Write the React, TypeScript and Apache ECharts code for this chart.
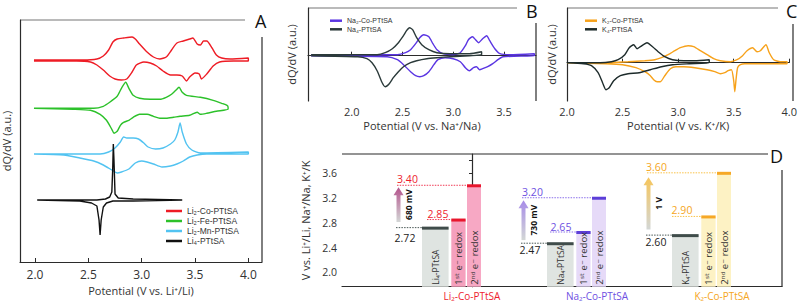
import React, { useEffect, useRef } from "react";
import * as echarts from "echarts";

type P = [number, number];

// ---------- Panel A: Li cells (potential V, dQ/dV a.u. relative to own baseline)
const LI_CO_UP: P[] = [[1.99,0],[2.45,0],[2.58,1],[2.64,4],[2.69,10],[2.73,18],[2.77,21],[2.83,22],[2.91,23],[2.94,21],[2.98,16],[3.05,8],[3.11,3],[3.17,1],[3.23,3],[3.28,10],[3.33,17],[3.39,19],[3.45,21],[3.48,22],[3.52,16],[3.55,15],[3.58,19],[3.61,19],[3.66,12],[3.70,5],[3.75,2],[3.83,1],[4.0,2]];
const LI_CO_DOWN: P[] = [[4.0,-1],[3.86,-1],[3.73,-2],[3.67,-6],[3.61,-14],[3.56,-19],[3.54,-14],[3.50,-13],[3.45,-17],[3.42,-21],[3.38,-16],[3.33,-15],[3.27,-15],[3.20,-11],[3.14,-6],[3.08,-3],[3.02,-2],[2.95,-5],[2.91,-12],[2.86,-19],[2.81,-20],[2.75,-19],[2.70,-16],[2.64,-10],[2.58,-5],[2.52,-2],[2.39,-1],[1.99,-1]];
const LI_FE_UP: P[] = [[1.99,0],[2.55,0],[2.64,2],[2.70,6],[2.77,12],[2.81,20],[2.85,26],[2.88,20],[2.92,13],[2.98,10],[3.08,9],[3.17,9],[3.23,11],[3.28,14],[3.32,18],[3.35,21],[3.38,16],[3.42,13],[3.55,11],[3.67,8],[3.75,5],[3.80,3],[3.81,1]];
const LI_FE_DOWN: P[] = [[3.81,-1],[3.70,-3],[3.61,-5],[3.55,-6],[3.52,-4],[3.45,-7],[3.36,-8],[3.30,-9],[3.23,-10],[3.17,-10],[3.11,-8],[3.05,-6],[2.98,-6],[2.92,-9],[2.88,-12],[2.83,-14],[2.80,-17],[2.77,-23],[2.74,-25],[2.72,-21],[2.67,-12],[2.61,-6],[2.52,-2],[2.36,-1],[1.99,0]];
const LI_MN_UP: P[] = [[1.99,0],[2.61,0],[2.69,2],[2.75,6],[2.80,12],[2.83,17],[2.86,16],[2.92,16],[2.97,15],[3.02,11],[3.06,7],[3.13,5],[3.20,6],[3.27,10],[3.31,14],[3.34,22],[3.36,31],[3.38,22],[3.42,10],[3.47,4],[3.55,1],[4.0,2]];
const LI_MN_DOWN: P[] = [[4.0,0],[3.61,0],[3.52,-1],[3.45,-3],[3.39,-7],[3.33,-10],[3.27,-12],[3.19,-13],[3.11,-10],[3.05,-8],[3.0,-7],[2.94,-9],[2.88,-15],[2.81,-18],[2.77,-19],[2.72,-16],[2.64,-11],[2.55,-7],[2.42,-4],[2.27,-1],[1.99,0]];
const LI4_UP: P[] = [[2.02,0],[2.58,0],[2.66,1],[2.70,3],[2.72,8],[2.728,30],[2.734,56],[2.74,40],[2.75,6],[2.78,2],[2.92,1],[3.38,0]];
const LI4_DOWN: P[] = [[3.38,0],[2.92,-1],[2.73,-1],[2.67,-3],[2.64,-7],[2.62,-20],[2.61,-35],[2.60,-20],[2.58,-6],[2.53,-3],[2.42,-1],[2.02,0]];
const A_NAMES = ["Li\u2082-Co-PTtSA", "Li\u2082-Fe-PTtSA", "Li\u2082-Mn-PTtSA", "Li\u2084-PTtSA"];
const A_OFFSETS = [202, 153.7, 108, 62];
const A_COLORS = ["#ee1c25", "#2cc12a", "#52c3f1", "#111111"];

// ---------- Panel B: Na cells
const NA_CO_UP: P[] = [[1.60,1],[2.45,1],[2.53,3],[2.58,6],[2.63,12],[2.67,18],[2.71,21],[2.76,19],[2.80,12],[2.84,6],[2.90,2],[3.0,1],[3.07,3],[3.12,10],[3.15,16],[3.19,19],[3.22,16],[3.25,13],[3.29,17],[3.33,20],[3.36,15],[3.41,7],[3.46,2],[3.56,1],[3.80,2]];
const NA_CO_DOWN: P[] = [[3.80,0],[3.49,-1],[3.44,-4],[3.39,-8],[3.34,-11],[3.29,-13],[3.26,-14],[3.23,-11],[3.20,-12],[3.16,-15],[3.12,-12],[3.07,-6],[3.0,-3],[2.92,-2],[2.85,-4],[2.81,-9],[2.76,-16],[2.71,-20],[2.67,-21],[2.63,-20],[2.58,-16],[2.51,-9],[2.45,-4],[2.35,-1],[1.60,0]];
const NA4_UP: P[] = [[1.60,1],[2.25,1],[2.33,3],[2.40,7],[2.46,13],[2.51,20],[2.54,25],[2.57,28],[2.60,26],[2.64,18],[2.69,11],[2.76,6],[2.84,3],[2.97,2],[3.16,2],[3.28,4]];
const NA4_DOWN: P[] = [[3.28,1],[3.16,0],[2.97,-1],[2.84,-2],[2.74,-3],[2.64,-5],[2.58,-7],[2.51,-11],[2.46,-16],[2.41,-22],[2.37,-28],[2.33,-31],[2.30,-27],[2.25,-15],[2.20,-7],[2.15,-3],[2.06,-1],[1.60,0]];
const B_NAMES = ["Na\u2082-Co-PTtSA", "Na\u2084-PTtSA"];
const B_COLORS = ["#5a35e2", "#2b3a3a"];

// ---------- Panel C: K cells
const K_CO_UP: P[] = [[2.0,0],[2.3,0],[2.55,1],[2.7,2],[2.79,3],[2.85,5],[2.91,8],[2.97,12],[3.02,15],[3.09,17],[3.14,16],[3.2,12],[3.26,8],[3.32,4],[3.38,2],[3.47,1],[3.53,3],[3.58,7],[3.62,12],[3.67,15],[3.71,11],[3.74,12],[3.79,18],[3.82,10],[3.86,3],[3.92,1],[3.98,1]];
const K_CO_DOWN: P[] = [[3.98,-1],[3.8,-1],[3.6,-1],[3.56,-2],[3.535,-5],[3.52,-18],[3.51,-29],[3.50,-18],[3.48,-7],[3.45,-8],[3.42,-10],[3.38,-11],[3.33,-9],[3.26,-7],[3.15,-5],[3.05,-4],[2.98,-4],[2.93,-6],[2.88,-13],[2.84,-19],[2.81,-19],[2.78,-17],[2.75,-13],[2.70,-9],[2.62,-5],[2.5,-2],[2.35,-1],[2.0,0]];
const K4_UP: P[] = [[2.0,0],[2.3,0],[2.4,1],[2.46,3],[2.52,8],[2.56,15],[2.60,18],[2.63,14],[2.66,16],[2.72,20],[2.77,16],[2.82,11],[2.88,6],[2.95,3],[3.05,2],[3.15,2],[3.28,3]];
const K4_DOWN: P[] = [[3.28,0],[3.1,-1],[2.95,-2],[2.85,-4],[2.75,-7],[2.65,-10],[2.55,-11],[2.48,-13],[2.42,-18],[2.38,-25],[2.35,-27],[2.32,-20],[2.28,-10],[2.22,-3],[2.15,-1],[2.0,0]];
const C_NAMES = ["K\u2082-Co-PTtSA", "K\u2084-PTtSA"];
const C_COLORS = ["#f7a21b", "#1d2b2b"];

// ---------- Panel D: redox potentials
const GROUPS = ["Li\u2082-Co-PTtSA", "Na\u2082-Co-PTtSA", "K\u2082-Co-PTtSA"];
const BASE_LEVEL = [2.72, 2.47, 2.60];
const FIRST_LEVEL = [2.85, 2.65, 2.90];
const SECOND_LEVEL = [3.40, 3.20, 3.60];
const BAR_LABELS = [
  ["Li\u2084-PTtSA", "1\u02e2\u1d57 e\u207b redox", "2\u207f\u1d48 e\u207b redox"],
  ["Na\u2084-PTtSA", "1\u02e2\u1d57 e\u207b redox", "2\u207f\u1d48 e\u207b redox"],
  ["K\u2084-PTtSA", "1\u02e2\u1d57 e\u207b redox", "2\u207f\u1d48 e\u207b redox"],
];
const ARROW_FROM = [2.81, 2.52, 2.69];
const ARROW_TO = [3.37, 3.16, 3.53];
const ARROW_LABELS = ["680 mV", "730 mV", "1 V"];
const D_TICKS = [2.0, 2.4, 2.8, 3.2, 3.6];
const D_MINOR = [2.0, 2.2, 2.4, 2.6, 2.8, 3.0, 3.2, 3.4, 3.6, 3.8];

// ---------- styles
const FONT = "'Open Sans', 'DejaVu Sans', sans-serif";
const LFONT = "'Liberation Sans', 'DejaVu Sans', sans-serif";
const INK = "#333";
const GROUP_COLORS = ["#ee1c2e", "#6e50e2", "#f5a623"];
const FILLS = [["#dfe4e1", "#f5a0bd", "#f7a8c4"], ["#dfe4e1", "#e6daf8", "#e6daf8"], ["#dfe4e1", "#fdf2c4", "#fdf2c4"]];
const CAPS = [["#3f4c4a", "#e8162d", "#e8162d"], ["#3f4c4a", "#5c3ed8", "#5c3ed8"], ["#3f4c4a", "#f6a826", "#f6a826"]];
const LEVEL_LINE = [["#4a5856", "#f03a55", "#f03a55"], ["#4a5856", "#8b70ea", "#8b70ea"], ["#4a5856", "#f9c24a", "#f9c24a"]];
const ARROW_TOP = ["#b4538c", "#a78be8", "#f6c55a"];
const BAR_DX = [-50, -20.7, -5];
const BAR_W = [26.6, 14.3, 14];
const LINE_DX = [[-76, -45, -75], [-76, -47, -75], [-76, -50, -75]];
const LABEL_DX = [[-67, -34, -64.5], [-67, -36, -64.5], [-66, -40, -65.5]];
const LABEL_DY = [[10.5, -6, -6], [7, -5, -6], [7, -6.5, -5.5]];

function loop(up: P[], down: P[], off: number) {
  return up.concat(down).map(([x, y]) => [x, y + off]);
}

function potAxis(gridIndex: number, min: number, max: number, ticks: number[], name: string, margin: number, gap: number, fs: number) {
  return {
    type: "value", gridIndex, min, max, name, nameLocation: "middle", nameGap: gap,
    nameTextStyle: { fontSize: 11, fontFamily: FONT, color: INK },
    axisLine: { show: true, lineStyle: { color: "#2b2b2b", width: 1.2 } },
    axisTick: { show: true, inside: true, length: 4, customValues: ticks, lineStyle: { color: "#2b2b2b" } },
    axisLabel: { customValues: ticks, formatter: (v: number) => v.toFixed(1), fontSize: fs, fontFamily: FONT, color: INK, margin },
    splitLine: { show: false },
  };
}
function auAxis(gridIndex: number, min: number, max: number, gap: number) {
  return {
    type: "value", gridIndex, min, max, name: "dQ/dV (a.u.)", nameLocation: "middle", nameGap: gap,
    nameTextStyle: { fontSize: 11, fontFamily: FONT, color: INK },
    axisLine: { show: true, lineStyle: { color: "#2b2b2b", width: 1.2 } },
    axisTick: { show: false }, axisLabel: { show: false }, splitLine: { show: false },
  };
}
function curve(name: string, color: string, data: number[][], xi: number, smooth: number) {
  return {
    type: "line", name, xAxisIndex: xi, yAxisIndex: xi, data, color, symbol: "none", smooth,
    lineStyle: { width: 1.4, color }, silent: true, z: 3,
  };
}
function legend(names: string[], left: number, top: number, w: number, fs: number, lh: number) {
  return {
    data: names, left, top, orient: "vertical", itemWidth: w, itemHeight: 2.5, itemGap: 0, icon: "rect", padding: 0,
    selectedMode: false, textStyle: { fontSize: fs, fontFamily: LFONT, color: INK, lineHeight: lh },
  };
}

export default function App() {
  const ref = useRef<HTMLDivElement>(null);
  useEffect(() => {
    const chart = echarts.init(ref.current!, null, { renderer: "svg" });

    const barData: number[][] = [];
    GROUPS.forEach((_, g) => {
      barData.push([g, 0, BASE_LEVEL[g]], [g, 1, FIRST_LEVEL[g]], [g, 2, SECOND_LEVEL[g]]);
    });
    const arrowData = GROUPS.map((_, g) => [g, ARROW_FROM[g], ARROW_TO[g]]);

    const barRender = (params: any, api: any) => {
      const g = api.value(0), b = api.value(1), v = api.value(2);
      const top = api.coord([g, v]);
      const cs = params.coordSys;
      const bottom = cs.y + cs.height;
      const cx = top[0];
      const x0 = cx + BAR_DX[b];
      const w = BAR_W[b];
      const ty = top[1];
      return {
        type: "group",
        children: [
          { type: "rect", shape: { x: x0, y: ty, width: w, height: bottom - ty }, style: { fill: FILLS[g][b] } },
          { type: "rect", shape: { x: x0, y: ty - 1, width: w, height: 3 }, style: { fill: CAPS[g][b] } },
          { type: "line", shape: { x1: cx + LINE_DX[g][b], y1: ty, x2: x0, y2: ty }, style: { stroke: LEVEL_LINE[g][b], lineWidth: 1, lineDash: [1.5, 1.2] } },
          { type: "text", x: cx + LABEL_DX[g][b], y: ty + LABEL_DY[g][b], style: { text: v.toFixed(2), fill: b === 0 ? "#222" : GROUP_COLORS[g], fontSize: 10.5, fontFamily: FONT, align: "center", verticalAlign: "middle" } },
          { type: "text", x: x0 + w / 2, y: bottom - 2, rotation: Math.PI / 2, style: { text: BAR_LABELS[g][b], fill: "#333", fontSize: b === 0 ? 8.5 : 9.5, fontFamily: FONT, align: "left", verticalAlign: "middle" } },
        ],
      };
    };
    const arrowRender = (params: any, api: any) => {
      const g = api.value(0);
      const p0 = api.coord([g, api.value(1)]);
      const p1 = api.coord([g, api.value(2)]);
      const x = p0[0] - 73.5;
      const grad = new echarts.graphic.LinearGradient(x, p0[1], x, p1[1], [{ offset: 0, color: "#d3d7d6" }, { offset: 1, color: ARROW_TOP[g] }], true);
      return {
        type: "group",
        children: [
          { type: "rect", shape: { x: x - 2, y: p1[1] + 7, width: 4, height: p0[1] - p1[1] - 7 }, style: { fill: grad } },
          { type: "polygon", shape: { points: [[x - 5, p1[1] + 8], [x + 5, p1[1] + 8], [x, p1[1]]] }, style: { fill: grad } },
          { type: "text", x: x + 9.5, y: (p0[1] + p1[1]) / 2, rotation: Math.PI / 2, style: { text: ARROW_LABELS[g], fill: "#111", fontSize: 8.5, fontWeight: "bold", fontFamily: FONT, align: "center", verticalAlign: "middle" } },
        ],
      };
    };

    const line = (x1: number, y1: number, x2: number, y2: number, stroke: string) => ({
      type: "line", shape: { x1, y1, x2, y2 }, style: { stroke, lineWidth: 1.2 }, silent: true,
    });
    const letter = (text: string, x: number, y: number) => ({
      type: "text", x, y, style: { text, fontSize: 18, fontFamily: FONT, fill: "#111" }, silent: true,
    });

    const option: any = {
      animation: false,
      backgroundColor: "#fff",
      grid: [
        { left: 20, top: 20, width: 242, height: 242 },
        { left: 308, top: 8, width: 228, height: 93 },
        { left: 567, top: 8, width: 226, height: 93 },
        { left: 342, top: 154, width: 440, height: 132.7 },
      ],
      xAxis: [
        potAxis(0, 1.859, 4.128, [2.0, 2.5, 3.0, 3.5, 4.0], "Potential (V vs. Li\u207a/Li)", 6, 19, 12),
        potAxis(1, 1.569, 3.816, [2.0, 2.5, 3.0, 3.5], "Potential (V vs. Na\u207a/Na)", 5, 19, 11),
        potAxis(2, 2.0, 4.0, [2.0, 2.5, 3.0, 3.5, 4.0], "Potential (V vs. K\u207a/K)", 5, 19, 11),
        {
          type: "value", gridIndex: 3, min: -1.04, max: 2.48,
          axisLine: { show: true, lineStyle: { color: "#2b2b2b", width: 1.2 } },
          axisTick: { show: false }, splitLine: { show: false },
          axisLabel: {
            customValues: [0, 1, 2], margin: 4,
            formatter: (v: number) => `{g${v}|${GROUPS[v]}}`,
            rich: {
              g0: { color: GROUP_COLORS[0], fontSize: 10, fontFamily: FONT },
              g1: { color: GROUP_COLORS[1], fontSize: 10, fontFamily: FONT },
              g2: { color: GROUP_COLORS[2], fontSize: 10, fontFamily: FONT },
            },
          },
        },
      ],
      yAxis: [
        auAxis(0, 0, 242, 8),
        auAxis(1, -45.3, 47.7, 11),
        auAxis(2, -38.3, 54.7, 10),
        {
          type: "value", gridIndex: 3, min: 1.772, max: 3.902,
          name: "V vs. Li\u207a/Li, Na\u207a/Na, K\u207a/K", nameLocation: "middle", nameGap: 30,
          nameTextStyle: { fontSize: 11, fontFamily: FONT, color: INK },
          axisLine: { show: true, lineStyle: { color: "#2b2b2b", width: 1.2 } },
          axisTick: { show: true, inside: false, length: 3, customValues: D_MINOR, lineStyle: { color: "#2b2b2b" } },
          axisLabel: { customValues: D_TICKS, formatter: (v: number) => v.toFixed(1), fontSize: 10.5, fontFamily: FONT, color: INK, margin: 5 },
          splitLine: { show: false },
        },
      ],
      legend: [
        legend(A_NAMES, 166, 206, 16, 8.5, 10),
        legend(B_NAMES, 330, 16.4, 12, 7, 8.6),
        legend(C_NAMES, 585, 16.4, 12, 7, 8.6),
      ],
      series: [
        curve(A_NAMES[0], A_COLORS[0], loop(LI_CO_UP, LI_CO_DOWN, A_OFFSETS[0]), 0, 0.2),
        curve(A_NAMES[1], A_COLORS[1], loop(LI_FE_UP, LI_FE_DOWN, A_OFFSETS[1]), 0, 0.2),
        curve(A_NAMES[2], A_COLORS[2], loop(LI_MN_UP, LI_MN_DOWN, A_OFFSETS[2]), 0, 0.2),
        curve(A_NAMES[3], A_COLORS[3], loop(LI4_UP, LI4_DOWN, A_OFFSETS[3]), 0, 0),
        curve(B_NAMES[0], B_COLORS[0], loop(NA_CO_UP, NA_CO_DOWN, 0), 1, 0.2),
        curve(B_NAMES[1], B_COLORS[1], loop(NA4_UP, NA4_DOWN, 0), 1, 0.2),
        curve(C_NAMES[0], C_COLORS[0], loop(K_CO_UP, K_CO_DOWN, 0), 2, 0.2),
        curve(C_NAMES[1], C_COLORS[1], loop(K4_UP, K4_DOWN, 0), 2, 0.2),
        { type: "custom", xAxisIndex: 3, yAxisIndex: 3, data: barData, encode: { x: 0, y: 2 }, renderItem: barRender, silent: true, z: 2 },
        { type: "custom", xAxisIndex: 3, yAxisIndex: 3, data: arrowData, encode: { x: 0, y: [1, 2] }, renderItem: arrowRender, silent: true, z: 3 },
      ],
      graphic: [
        line(20, 20, 245, 20, "#777"),
        line(262, 37, 262, 262, "#2b2b2b"),
        line(308, 8, 517, 8, "#777"),
        line(536, 23, 536, 101, "#2b2b2b"),
        line(567, 8, 778, 8, "#777"),
        line(793, 24, 793, 101, "#2b2b2b"),
        line(342, 154, 768, 154, "#2b2b2b"),
        line(782, 170, 782, 286.7, "#2b2b2b"),
        letter("A", 255, 12),
        letter("B", 526, 2),
        letter("C", 786, 2),
        letter("D", 770, 147),
      ],
    };
    chart.setOption(option);
    return () => chart.dispose();
  }, []);
  return <div ref={ref} style={{ position: "fixed", left: 0, top: 0, width: 800, height: 304, background: "#fff" }} />;
}
